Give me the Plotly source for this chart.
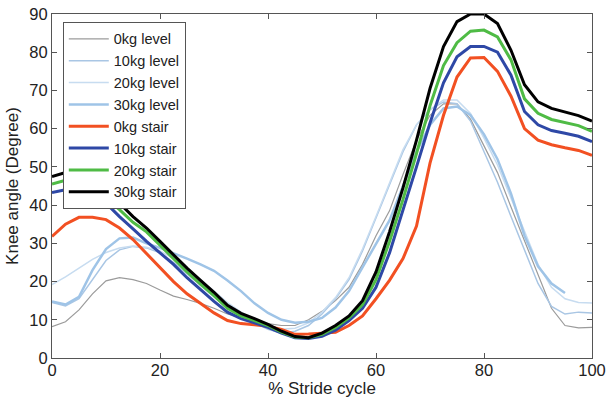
import plotly.graph_objects as go

stride = [0, 2.5, 5, 7.5, 10, 12.5, 15, 17.5, 20, 22.5, 25, 27.5, 30, 32.5, 35, 37.5,
          40, 42.5, 45, 47.5, 50, 52.5, 55, 57.5, 60, 62.5, 65, 67.5, 70, 72.5, 75,
          77.5, 80, 82.5, 85, 87.5, 90, 92.5, 95, 97.5, 100]

level_0kg = [8.2, 9.5, 12.6, 16.8, 20.2, 21, 20.5, 19.5, 17.8, 16.2, 15.3, 14.3, 13, 11.5,
             10.5, 9.5, 9, 8.5, 8.5, 10, 12.2, 15, 18.5, 24.5, 32, 38.5, 48, 57, 63.5,
             66.5, 66.5, 62.5, 55.5, 48.5, 39.5, 30.5, 21.5, 13, 8.5, 7.9, 8]
level_10kg = [14.5, 13.6, 15.5, 20.5, 25.5, 28.3, 29.2, 28.8, 27.5, 25, 22, 19, 16, 13,
              10.8, 9.2, 7.5, 6.5, 7, 8.5, 11.5, 15.5, 20.5, 28, 36.5, 45, 54, 61, 65,
              67, 66.5, 62, 54, 46, 37, 28, 19.5, 13.5, 11.5, 12, 11.8]
level_20kg = [19.2, 21.2, 23.5, 25.8, 27.6, 28.8, 29.3, 29, 28, 26, 23.5, 20.5, 17.5, 14.5,
              12, 10, 8.5, 7.5, 7.8, 9.2, 12, 15.8, 21, 28.5, 37, 45.5, 54.5, 61, 65,
              67.5, 67.5, 64, 57.5, 50.5, 42, 33, 24.5, 18.5, 15.5, 14.5, 14.4]
level_30kg = [14.8, 14, 16, 23, 28.5, 31.3, 31.5, 30, 28.8, 27.5, 26, 24.5, 22.8, 20.3,
              17.5, 14.3, 11.8, 10, 9.2, 9.5, 10.5, 13.2, 17.5, 23.7, 29.8, 36, 45, 54,
              61, 65.3, 65.8, 63.5, 58.5, 52, 43, 32, 24, 19.5, 17, None, None]

stair_0kg = [31.8, 35, 36.8, 36.8, 36.2, 34, 31, 27.3, 23.5, 20, 16.8, 14.3, 11.8, 9.8,
             9, 8.7, 8.3, 7.5, 6.2, 6.3, 6.5, 6.7, 8.5, 11, 15.5, 20.3, 26, 34.5, 51,
             63.5, 73.5, 78.5, 78.6, 75, 68.5, 60, 57, 55.8, 55, 54.3, 53]
stair_10kg = [43.3, 44, 44, 43, 40.5, 37, 33.8, 30.5, 27.5, 24.5, 21, 17.8, 14.8, 12,
              10.3, 9.2, 8, 6.5, 5.3, 5.1, 5.7, 7.3, 9.8, 13, 18.5, 27.5, 38.5, 50, 61.5,
              72, 78.8, 81.5, 81.5, 80, 74, 64.5, 61, 59.5, 58.8, 58, 56.6]
stair_20kg = [45.5, 46.5, 46.5, 44.5, 41.8, 38.8, 35.5, 33, 29.5, 26, 22.5, 19.3, 16.3, 13,
              11, 9.8, 8.5, 6.8, 5.5, 5.3, 6.2, 8, 10.5, 14, 20.5, 30.5, 41.5, 53.5, 66,
              76.5, 82.5, 85.5, 85.8, 84, 78, 67.8, 64, 62.4, 61.7, 60.8, 59.3]
stair_30kg = [47.5, 48.5, 48.5, 46.5, 43.5, 40.5, 37, 34, 30.5, 27, 23.5, 20.3, 17.2, 13.8,
              11.7, 10.3, 8.8, 7, 5.6, 5.3, 6.5, 8.5, 11, 15, 22.5, 33, 44.5, 57, 70.5,
              81.5, 88, 90, 90, 87.5, 80.5, 71.5, 67, 65.3, 64.3, 63.4, 62]

series = [
    ("0kg level", level_0kg, "#9b9b9b", 1.2),
    ("10kg level", level_10kg, "#a9c6e4", 1.5),
    ("20kg level", level_20kg, "#c7dcf0", 1.5),
    ("30kg level", level_30kg, "#9fc4e7", 2.5),
    ("0kg stair", stair_0kg, "#f25022", 3),
    ("10kg stair", stair_10kg, "#2e48a6", 3),
    ("20kg stair", stair_20kg, "#4fbb45", 3),
    ("30kg stair", stair_30kg, "#000000", 3),
]

fig = go.Figure()
for name, vals, color, width in series:
    fig.add_trace(go.Scatter(x=stride, y=vals, mode="lines", name=name,
                             line=dict(color=color, width=width)))

font_family = "Liberation Sans, Arial, sans-serif"
axis_common = dict(showline=True, linecolor="#555555", linewidth=1, mirror="ticks",
                   ticks="inside", ticklen=5, tickcolor="#555555", showgrid=False,
                   zeroline=False, automargin=False, ticklabeloverflow="allow",
                   tickfont=dict(family=font_family, size=16.5, color="#222222"))

fig.update_layout(
    width=606, height=405,
    margin=dict(l=52, r=14, t=14, b=47),
    paper_bgcolor="white", plot_bgcolor="white",
    font=dict(family=font_family, size=17, color="#222222"),
    xaxis=dict(range=[0, 100], tickvals=[0, 20, 40, 60, 80, 100], ticklabelstandoff=-3,
               title=dict(text="% Stride cycle", font=dict(size=17), standoff=0),
               **axis_common),
    yaxis=dict(range=[0, 90], tickvals=[0, 10, 20, 30, 40, 50, 60, 70, 80, 90],
               title=dict(text="Knee angle (Degree)", font=dict(size=17), standoff=6),
               **axis_common),
    legend=dict(x=0.02, y=0.977, xanchor="left", yanchor="top",
                bgcolor="white", bordercolor="#555555", borderwidth=1,
                font=dict(family=font_family, size=14.5, color="#222222"),
                tracegroupgap=0, itemwidth=40),
    showlegend=True,
)

fig.write_html(
    "out.html",
    config={"displayModeBar": False},
    post_script="document.body.style.margin='0';document.body.style.overflow='hidden';",
)
